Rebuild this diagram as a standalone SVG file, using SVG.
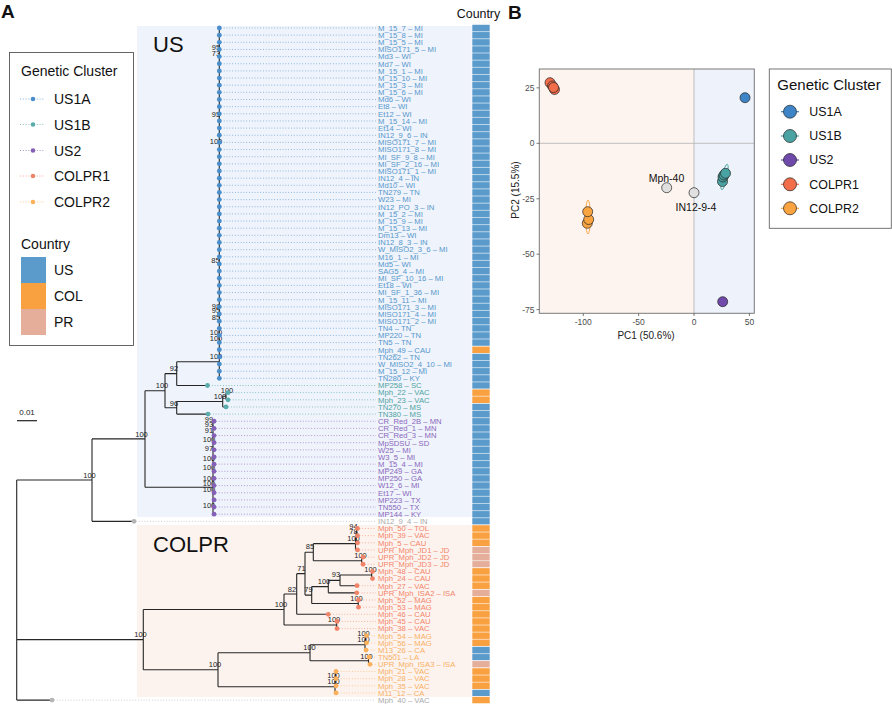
<svg xmlns="http://www.w3.org/2000/svg" width="892" height="704" viewBox="0 0 892 704">
<style>
text{font-family:"Liberation Sans",Arial,sans-serif}
.bs{font-size:7.5px;fill:#222;text-anchor:middle}
.tl{font-size:7.7px}
.a{fill:#5597cc}.b{fill:#4ea3a3}.p{fill:#8a67bd}.r{fill:#f3846a}.o{fill:#f8b064}.g{fill:#aaaaaa}
.da{fill:#4a8fcb}.db{fill:#5aabab}.dp{fill:#8560b8}.dr{fill:#f08468}.do{fill:#fbb05c}.dg{fill:#b5b5b5}
.lead{fill:none;stroke-width:0.8;stroke-dasharray:0.9 1.9}
.tree{fill:none;stroke:#262626;stroke-width:1.1}
.cU{fill:#5a9bcb}.cC{fill:#f9a040}.cP{fill:#e4ae9a}
.leg{font-size:14px;fill:#111}
.tick{font-size:8.5px;fill:#4d4d4d}
.pt{stroke:#222;stroke-width:0.7}
</style>
<rect width="892" height="704" fill="#fff"/>
<text x="1" y="18" font-size="19" font-weight="bold" fill="#111">A</text>
<text x="508" y="19" font-size="19" font-weight="bold" fill="#111">B</text>
<rect x="137" y="26" width="335" height="491" fill="#eff3fb"/>
<rect x="137" y="525" width="335" height="172" fill="#fdf3ee"/>
<text x="153" y="52" font-family="Noto Sans, sans-serif" font-size="22" fill="#111">US</text>
<text x="153" y="552" font-family="Noto Sans, sans-serif" font-size="22" fill="#111">COLPR</text>
<g id="legendA">
<rect x="9.5" y="52.5" width="124" height="293" fill="#fff" stroke="#555" stroke-width="0.9"/>
<text x="21" y="76" class="leg">Genetic Cluster</text>
<line x1="20" y1="99" x2="45" y2="99" stroke="#4a8fcb" class="lead"/><circle cx="33" cy="99" r="2.3" class="da"/><text x="54" y="104" class="leg">US1A</text>
<line x1="20" y1="124.5" x2="45" y2="124.5" stroke="#5aabab" class="lead"/><circle cx="33" cy="124.5" r="2.3" class="db"/><text x="54" y="129.5" class="leg">US1B</text>
<line x1="20" y1="150.5" x2="45" y2="150.5" stroke="#8560b8" class="lead"/><circle cx="33" cy="150.5" r="2.3" class="dp"/><text x="54" y="155.5" class="leg">US2</text>
<line x1="20" y1="176" x2="45" y2="176" stroke="#f08468" class="lead"/><circle cx="33" cy="176" r="2.3" class="dr"/><text x="54" y="181" class="leg">COLPR1</text>
<line x1="20" y1="202" x2="45" y2="202" stroke="#fbb05c" class="lead"/><circle cx="33" cy="202" r="2.3" class="do"/><text x="54" y="207" class="leg">COLPR2</text>
<text x="21" y="249" class="leg">Country</text>
<rect x="21" y="257" width="25" height="26" class="cU"/><text x="54" y="275" class="leg">US</text>
<rect x="21" y="283" width="25" height="26" class="cC"/><text x="54" y="301" class="leg">COL</text>
<rect x="21" y="309" width="25" height="26" class="cP"/><text x="54" y="327" class="leg">PR</text>
</g>
<g id="scalebar">
<text x="27" y="415" font-size="8" text-anchor="middle" fill="#222">0.01</text>
<line x1="17" y1="420.7" x2="37" y2="420.7" stroke="#222" stroke-width="1.2"/>
</g>
<g id="connectors">
<path class="lead" stroke="#6aa3d4" d="M221 28H376M221 35.15H376M221 42.3H376M221 49.45H376M221 56.6H376M221 63.75H376M221 70.9H376M221 78.05H376M221 85.2H376M221 92.35H376M221 99.5H376M221 106.65H376M221 113.8H376M221 120.95H376M221 128.1H376M221 135.25H376M221 142.4H376M221 149.55H376M221 156.7H376M221 163.85H376M221 171H376M221 178.15H376M221 185.3H376M221 192.45H376M221 199.6H376M221 206.75H376M221 213.9H376M221 221.05H376M221 228.2H376M221 235.35H376M221 242.5H376M221 249.65H376M221 256.8H376M221 263.95H376M221 271.1H376M221 278.25H376M221 285.4H376M221 292.55H376M221 299.7H376M221 306.85H376M221 314H376M221 321.15H376M221 328.3H376M221 335.45H376M221 342.6H376M221 349.75H376M221 356.9H376M221 364.05H376M221 371.2H376M221 378.35H376"/>
<path class="lead" stroke="#62b0b0" d="M209 385.5H376M230 392.65H376M230 399.8H376M228 406.95H376M210 414.1H376"/>
<path class="lead" stroke="#9a7cc6" d="M216 421.25H376M216 428.4H376M216 435.55H376M216 442.7H376M216 449.85H376M216 457H376M216 464.15H376M216 471.3H376M216 478.45H376M216 485.6H376M216 492.75H376M216 499.9H376M216 507.05H376M216 514.2H376"/>
<path class="lead" stroke="#bbbbbb" d="M136 521.35H376M54 700.1H376"/>
<path class="lead" stroke="#f39a84" d="M359.5 528.5H376M359.5 535.65H376M359.5 542.8H376M359.5 549.95H376M365 557.1H376M365 564.25H376M359 585.7H376M358.7 592.85H376M360.5 600H376M360.5 607.15H376M330.3 614.3H376M339 621.45H376M339 628.6H376"/>
<path class="lead" stroke="#fbbf7e" d="M368.5 635.75H376M368.5 642.9H376M368 650.05H376M371 657.2H376M372 664.35H376M338 671.5H376M338 678.65H376M338 685.8H376M338 692.95H376"/>
<path class="tree" d="M16.7 480V700.1M16.7 480H92M16.7 639.6H143.3M16.7 700.1H52
M92 438.9V521.35M92 438.9H145M92 521.35H134
M145 390.7V487.3M145 390.7H165M145 487.3H213
M165 373.6V407.8M165 373.6H176.7M165 407.8H176.7
M176.7 361.7V385.5M176.7 361.7H219.3M176.7 385.5H207.5
M219.3 28V378.35
M176.7 401.5V414.1M176.7 401.5H222.7M176.7 414.1H208
M222.7 396.2V406.95M222.7 396.2H226M222.7 406.95H226
M226 392.65V399.8M226 392.65H228M226 399.8H228
M213 421.25V514.2
M143.3 609.5V669.7M143.3 609.5H284M143.3 669.7H218
M284 594V625M284 594H296.7M284 625H336.7
M336.7 621.45V628.6
M296.7 573.65V614.3M296.7 573.65H305M296.7 614.3H328.3
M305 552.2V595.1M305 552.2H313.3M305 595.1H311.7
M313.3 543.65V560.7M313.3 543.65H355.5M313.3 560.7H361.7
M355.5 537.4V549.95M355.5 537.4H356.2M355.5 549.95H357.5
M356.2 532.05V542.8M356.2 532.05H356.8M356.2 542.8H357.5
M356.8 528.5V535.65
M361.7 557.1V564.25M361.7 557.1H363M361.7 564.25H363
M311.7 586.6V603.55M311.7 586.6H328.3M311.7 603.55H358.3
M328.3 580.35V592.85M328.3 580.35H340M328.3 592.85H356.7
M340 575V585.7M340 575H371.7M340 585.7H357
M371.7 571.4V578.55M371.7 571.4H372.5M371.7 578.55H372.5
M358.3 600V607.15
M218 652.7V686.7M218 652.7H310M218 686.7H335
M310 644.7V660.8M310 644.7H365M310 660.8H368.5
M365 639.3V650.05M365 639.3H365.5M365 650.05H366
M365.5 635.75V642.9M365.5 635.75H366.5M365.5 642.9H366.5
M368.5 657.2V664.35M368.5 657.2H369M368.5 664.35H370
M335 680.4V692.95M335 680.4H335.3M335.3 675.1V685.8M335.3 675.1H335.6M335.6 671.5V678.65M335 692.95H336"/>
</g>
<g id="bootstrap" class="bs">
<text x="216" y="49.8">95</text><text x="216" y="55.8">73</text><text x="216" y="116.5">95</text><text x="216" y="143.5">100</text><text x="215.5" y="262.5">85</text><text x="216" y="308.5">98</text><text x="216" y="313.2">95</text><text x="216" y="320.2">85</text><text x="216" y="335">100</text><text x="216" y="340.5">100</text><text x="216" y="358.5">100</text>
<text x="209" y="421.5">99</text><text x="209" y="427">93</text><text x="209" y="432.5">91</text><text x="209" y="442">100</text><text x="209" y="450.5">97</text><text x="209" y="461">100</text><text x="209" y="470">100</text><text x="209" y="481">100</text><text x="209" y="485.5">100</text><text x="209" y="492">100</text><text x="209" y="507.5">100</text>
<text x="89.5" y="477.5">100</text><text x="141.5" y="436.5">100</text><text x="162" y="388">100</text><text x="174" y="370.5">92</text><text x="174" y="405.5">96</text><text x="220" y="399">100</text><text x="227" y="392.5">100</text>
<text x="140.5" y="636.5">100</text><text x="281" y="606.5">100</text><text x="292" y="591.5">82</text><text x="301.5" y="571">71</text><text x="310" y="549.3">85</text><text x="353.5" y="528.5">94</text><text x="353.5" y="534.3">78</text><text x="353.5" y="541">100</text><text x="360.5" y="557.5">100</text><text x="308.5" y="591.5">79</text><text x="324" y="583.5">100</text><text x="336" y="576.5">93</text><text x="370.5" y="571.5">100</text><text x="356.5" y="600.5">100</text><text x="334" y="621.5">100</text>
<text x="215" y="666.5">100</text><text x="309.5" y="649.5">100</text><text x="363.5" y="635.5">100</text><text x="363.5" y="641.5">100</text><text x="366.5" y="658.5">100</text><text x="333.5" y="677.5">100</text><text x="333.5" y="683.5">100</text>
</g>
<g id="tips" class="tl">
<g id="t1"><circle cx="219.3" cy="28" r="2.4" class="da"/><text x="378" y="30.8" class="a">M_15_7 – MI</text></g>
<g id="t2"><circle cx="219.3" cy="35.15" r="2.4" class="da"/><text x="378" y="37.95" class="a">M_15_8 – MI</text></g>
<g id="t3"><circle cx="219.3" cy="42.3" r="2.4" class="da"/><text x="378" y="45.1" class="a">M_15_5 – MI</text></g>
<g id="t4"><circle cx="219.3" cy="49.45" r="2.4" class="da"/><text x="378" y="52.25" class="a">MISO171_5 – MI</text></g>
<g id="t5"><circle cx="219.3" cy="56.6" r="2.4" class="da"/><text x="378" y="59.4" class="a">Md3 – WI</text></g>
<g id="t6"><circle cx="219.3" cy="63.75" r="2.4" class="da"/><text x="378" y="66.55" class="a">Md7 – WI</text></g>
<g id="t7"><circle cx="219.3" cy="70.9" r="2.4" class="da"/><text x="378" y="73.7" class="a">M_15_1 – MI</text></g>
<g id="t8"><circle cx="219.3" cy="78.05" r="2.4" class="da"/><text x="378" y="80.85" class="a">M_15_10 – MI</text></g>
<g id="t9"><circle cx="219.3" cy="85.2" r="2.4" class="da"/><text x="378" y="88" class="a">M_15_3 – MI</text></g>
<g id="t10"><circle cx="219.3" cy="92.35" r="2.4" class="da"/><text x="378" y="95.15" class="a">M_15_6 – MI</text></g>
<g id="t11"><circle cx="219.3" cy="99.5" r="2.4" class="da"/><text x="378" y="102.3" class="a">Md6 – WI</text></g>
<g id="t12"><circle cx="219.3" cy="106.65" r="2.4" class="da"/><text x="378" y="109.45" class="a">Et8 – WI</text></g>
<g id="t13"><circle cx="219.3" cy="113.8" r="2.4" class="da"/><text x="378" y="116.6" class="a">Et12 – WI</text></g>
<g id="t14"><circle cx="219.3" cy="120.95" r="2.4" class="da"/><text x="378" y="123.75" class="a">M_15_14 – MI</text></g>
<g id="t15"><circle cx="219.3" cy="128.1" r="2.4" class="da"/><text x="378" y="130.9" class="a">Et14 – WI</text></g>
<g id="t16"><circle cx="219.3" cy="135.25" r="2.4" class="da"/><text x="378" y="138.05" class="a">IN12_9_6 – IN</text></g>
<g id="t17"><circle cx="219.3" cy="142.4" r="2.4" class="da"/><text x="378" y="145.2" class="a">MISO171_7 – MI</text></g>
<g id="t18"><circle cx="219.3" cy="149.55" r="2.4" class="da"/><text x="378" y="152.35" class="a">MISO171_8 – MI</text></g>
<g id="t19"><circle cx="219.3" cy="156.7" r="2.4" class="da"/><text x="378" y="159.5" class="a">MI_SF_9_8 – MI</text></g>
<g id="t20"><circle cx="219.3" cy="163.85" r="2.4" class="da"/><text x="378" y="166.65" class="a">MI_SF_2_16 – MI</text></g>
<g id="t21"><circle cx="219.3" cy="171" r="2.4" class="da"/><text x="378" y="173.8" class="a">MISO171_1 – MI</text></g>
<g id="t22"><circle cx="219.3" cy="178.15" r="2.4" class="da"/><text x="378" y="180.95" class="a">IN12_4 – IN</text></g>
<g id="t23"><circle cx="219.3" cy="185.3" r="2.4" class="da"/><text x="378" y="188.1" class="a">Md10 – WI</text></g>
<g id="t24"><circle cx="219.3" cy="192.45" r="2.4" class="da"/><text x="378" y="195.25" class="a">TN279 – TN</text></g>
<g id="t25"><circle cx="219.3" cy="199.6" r="2.4" class="da"/><text x="378" y="202.4" class="a">W23 – MI</text></g>
<g id="t26"><circle cx="219.3" cy="206.75" r="2.4" class="da"/><text x="378" y="209.55" class="a">IN12_PO_3 – IN</text></g>
<g id="t27"><circle cx="219.3" cy="213.9" r="2.4" class="da"/><text x="378" y="216.7" class="a">M_15_2 – MI</text></g>
<g id="t28"><circle cx="219.3" cy="221.05" r="2.4" class="da"/><text x="378" y="223.85" class="a">M_15_9 – MI</text></g>
<g id="t29"><circle cx="219.3" cy="228.2" r="2.4" class="da"/><text x="378" y="231" class="a">M_15_13 – MI</text></g>
<g id="t30"><circle cx="219.3" cy="235.35" r="2.4" class="da"/><text x="378" y="238.15" class="a">Dm13 – WI</text></g>
<g id="t31"><circle cx="219.3" cy="242.5" r="2.4" class="da"/><text x="378" y="245.3" class="a">IN12_8_3 – IN</text></g>
<g id="t32"><circle cx="219.3" cy="249.65" r="2.4" class="da"/><text x="378" y="252.45" class="a">W_MISO2_3_6 – MI</text></g>
<g id="t33"><circle cx="219.3" cy="256.8" r="2.4" class="da"/><text x="378" y="259.6" class="a">M16_1 – MI</text></g>
<g id="t34"><circle cx="219.3" cy="263.95" r="2.4" class="da"/><text x="378" y="266.75" class="a">Md5 – WI</text></g>
<g id="t35"><circle cx="219.3" cy="271.1" r="2.4" class="da"/><text x="378" y="273.9" class="a">SAG5_4 – MI</text></g>
<g id="t36"><circle cx="219.3" cy="278.25" r="2.4" class="da"/><text x="378" y="281.05" class="a">MI_SF_10_16 – MI</text></g>
<g id="t37"><circle cx="219.3" cy="285.4" r="2.4" class="da"/><text x="378" y="288.2" class="a">Et18 – WI</text></g>
<g id="t38"><circle cx="219.3" cy="292.55" r="2.4" class="da"/><text x="378" y="295.35" class="a">MI_SF_1_36 – MI</text></g>
<g id="t39"><circle cx="219.3" cy="299.7" r="2.4" class="da"/><text x="378" y="302.5" class="a">M_15_11 – MI</text></g>
<g id="t40"><circle cx="219.3" cy="306.85" r="2.4" class="da"/><text x="378" y="309.65" class="a">MISO171_3 – MI</text></g>
<g id="t41"><circle cx="219.3" cy="314" r="2.4" class="da"/><text x="378" y="316.8" class="a">MISO171_4 – MI</text></g>
<g id="t42"><circle cx="219.3" cy="321.15" r="2.4" class="da"/><text x="378" y="323.95" class="a">MISO171_2 – MI</text></g>
<g id="t43"><circle cx="219.3" cy="328.3" r="2.4" class="da"/><text x="378" y="331.1" class="a">TN4 – TN</text></g>
<g id="t44"><circle cx="219.3" cy="335.45" r="2.4" class="da"/><text x="378" y="338.25" class="a">MP220 – TN</text></g>
<g id="t45"><circle cx="219.3" cy="342.6" r="2.4" class="da"/><text x="378" y="345.4" class="a">TN5 – TN</text></g>
<g id="t46"><circle cx="219.3" cy="349.75" r="2.4" class="da"/><text x="378" y="352.55" class="a">Mph_49 – CAU</text></g>
<g id="t47"><circle cx="219.3" cy="356.9" r="2.4" class="da"/><text x="378" y="359.7" class="a">TN262 – TN</text></g>
<g id="t48"><circle cx="219.3" cy="364.05" r="2.4" class="da"/><text x="378" y="366.85" class="a">W_MISO2_4_10 – MI</text></g>
<g id="t49"><circle cx="219.3" cy="371.2" r="2.4" class="da"/><text x="378" y="374" class="a">M_15_12 – MI</text></g>
<g id="t50"><circle cx="219.3" cy="378.35" r="2.4" class="da"/><text x="378" y="381.15" class="a">TN280 – KY</text></g>
<g id="t51"><circle cx="207.5" cy="385.5" r="2.4" class="db"/><text x="378" y="388.3" class="b">MP258 – SC</text></g>
<g id="t52"><circle cx="228" cy="392.65" r="2.4" class="db"/><text x="378" y="395.45" class="b">Mph_22 – VAC</text></g>
<g id="t53"><circle cx="228" cy="399.8" r="2.4" class="db"/><text x="378" y="402.6" class="b">Mph_23 – VAC</text></g>
<g id="t54"><circle cx="226" cy="406.95" r="2.4" class="db"/><text x="378" y="409.75" class="b">TN270 – MS</text></g>
<g id="t55"><circle cx="208" cy="414.1" r="2.4" class="db"/><text x="378" y="416.9" class="b">TN380 – MS</text></g>
<g id="t56"><circle cx="214" cy="421.25" r="2.4" class="dp"/><text x="378" y="424.05" class="p">CR_Red_2B – MN</text></g>
<g id="t57"><circle cx="214" cy="428.4" r="2.4" class="dp"/><text x="378" y="431.2" class="p">CR_Red_1 – MN</text></g>
<g id="t58"><circle cx="214" cy="435.55" r="2.4" class="dp"/><text x="378" y="438.35" class="p">CR_Red_3 – MN</text></g>
<g id="t59"><circle cx="214" cy="442.7" r="2.4" class="dp"/><text x="378" y="445.5" class="p">MpSDSU – SD</text></g>
<g id="t60"><circle cx="214" cy="449.85" r="2.4" class="dp"/><text x="378" y="452.65" class="p">W25 – MI</text></g>
<g id="t61"><circle cx="214" cy="457" r="2.4" class="dp"/><text x="378" y="459.8" class="p">W3_5 – MI</text></g>
<g id="t62"><circle cx="214" cy="464.15" r="2.4" class="dp"/><text x="378" y="466.95" class="p">M_15_4 – MI</text></g>
<g id="t63"><circle cx="214" cy="471.3" r="2.4" class="dp"/><text x="378" y="474.1" class="p">MP249 – GA</text></g>
<g id="t64"><circle cx="214" cy="478.45" r="2.4" class="dp"/><text x="378" y="481.25" class="p">MP250 – GA</text></g>
<g id="t65"><circle cx="214" cy="485.6" r="2.4" class="dp"/><text x="378" y="488.4" class="p">W12_6 – MI</text></g>
<g id="t66"><circle cx="214" cy="492.75" r="2.4" class="dp"/><text x="378" y="495.55" class="p">Et17 – WI</text></g>
<g id="t67"><circle cx="214" cy="499.9" r="2.4" class="dp"/><text x="378" y="502.7" class="p">MP223 – TX</text></g>
<g id="t68"><circle cx="214" cy="507.05" r="2.4" class="dp"/><text x="378" y="509.85" class="p">TN550 – TX</text></g>
<g id="t69"><circle cx="214" cy="514.2" r="2.4" class="dp"/><text x="378" y="517" class="p">MP144 – KY</text></g>
<g id="t70"><circle cx="134" cy="521.35" r="2.4" class="dg"/><text x="378" y="524.15" class="g">IN12_9_4 – IN</text></g>
<g id="t71"><circle cx="357.5" cy="528.5" r="2.4" class="dr"/><text x="378" y="531.3" class="r">Mph_50 – TOL</text></g>
<g id="t72"><circle cx="357.5" cy="535.65" r="2.4" class="dr"/><text x="378" y="538.45" class="r">Mph_39 – VAC</text></g>
<g id="t73"><circle cx="357.5" cy="542.8" r="2.4" class="dr"/><text x="378" y="545.6" class="r">Mph_5 – CAU</text></g>
<g id="t74"><circle cx="357.5" cy="549.95" r="2.4" class="dr"/><text x="378" y="552.75" class="r">UPR_Mph_JD1 – JD</text></g>
<g id="t75"><circle cx="363" cy="557.1" r="2.4" class="dr"/><text x="378" y="559.9" class="r">UPR_Mph_JD2 – JD</text></g>
<g id="t76"><circle cx="363" cy="564.25" r="2.4" class="dr"/><text x="378" y="567.05" class="r">UPR_Mph_JD3 – JD</text></g>
<g id="t77"><circle cx="372.5" cy="571.4" r="2.4" class="dr"/><text x="378" y="574.2" class="r">Mph_48 – CAU</text></g>
<g id="t78"><circle cx="372.5" cy="578.55" r="2.4" class="dr"/><text x="378" y="581.35" class="r">Mph_24 – CAU</text></g>
<g id="t79"><circle cx="357" cy="585.7" r="2.4" class="dr"/><text x="378" y="588.5" class="r">Mph_27 – VAC</text></g>
<g id="t80"><circle cx="356.7" cy="592.85" r="2.4" class="dr"/><text x="378" y="595.65" class="r">UPR_Mph_ISA2 – ISA</text></g>
<g id="t81"><circle cx="358.5" cy="600" r="2.4" class="dr"/><text x="378" y="602.8" class="r">Mph_52 – MAG</text></g>
<g id="t82"><circle cx="358.5" cy="607.15" r="2.4" class="dr"/><text x="378" y="609.95" class="r">Mph_53 – MAG</text></g>
<g id="t83"><circle cx="328.3" cy="614.3" r="2.4" class="dr"/><text x="378" y="617.1" class="r">Mph_46 – CAU</text></g>
<g id="t84"><circle cx="337" cy="621.45" r="2.4" class="dr"/><text x="378" y="624.25" class="r">Mph_45 – CAU</text></g>
<g id="t85"><circle cx="337" cy="628.6" r="2.4" class="dr"/><text x="378" y="631.4" class="r">Mph_38 – VAC</text></g>
<g id="t86"><circle cx="366.5" cy="635.75" r="2.4" class="do"/><text x="378" y="638.55" class="o">Mph_54 – MAG</text></g>
<g id="t87"><circle cx="366.5" cy="642.9" r="2.4" class="do"/><text x="378" y="645.7" class="o">Mph_56 – MAG</text></g>
<g id="t88"><circle cx="366" cy="650.05" r="2.4" class="do"/><text x="378" y="652.85" class="o">M13_26 – CA</text></g>
<g id="t89"><circle cx="369" cy="657.2" r="2.4" class="do"/><text x="378" y="660" class="o">TN501 – LA</text></g>
<g id="t90"><circle cx="370" cy="664.35" r="2.4" class="do"/><text x="378" y="667.15" class="o">UPR_Mph_ISA3 – ISA</text></g>
<g id="t91"><circle cx="336" cy="671.5" r="2.4" class="do"/><text x="378" y="674.3" class="o">Mph_21 – VAC</text></g>
<g id="t92"><circle cx="336" cy="678.65" r="2.4" class="do"/><text x="378" y="681.45" class="o">Mph_28 – VAC</text></g>
<g id="t93"><circle cx="336" cy="685.8" r="2.4" class="do"/><text x="378" y="688.6" class="o">Mph_35 – VAC</text></g>
<g id="t94"><circle cx="336" cy="692.95" r="2.4" class="do"/><text x="378" y="695.75" class="o">M11_12 – CA</text></g>
<g id="t95"><circle cx="52" cy="700.1" r="2.4" class="dg"/><text x="378" y="702.9" class="g">Mph_40 – VAC</text></g>
</g>
<g id="country" stroke="#fff" stroke-width="0.6">
<text x="478.5" y="18" font-size="12.4" text-anchor="middle" fill="#111" stroke="none">Country</text>
<rect x="472" y="24.43" width="18" height="321.75" class="cU"/>
<rect x="472" y="346.18" width="18" height="7.15" class="cC"/>
<rect x="472" y="353.33" width="18" height="35.75" class="cU"/>
<rect x="472" y="389.08" width="18" height="14.3" class="cC"/>
<rect x="472" y="403.38" width="18" height="121.55" class="cU"/>
<rect x="472" y="524.93" width="18" height="21.45" class="cC"/>
<rect x="472" y="546.38" width="18" height="21.45" class="cP"/>
<rect x="472" y="567.83" width="18" height="21.45" class="cC"/>
<rect x="472" y="589.28" width="18" height="7.15" class="cP"/>
<rect x="472" y="596.43" width="18" height="50.05" class="cC"/>
<rect x="472" y="646.48" width="18" height="14.3" class="cU"/>
<rect x="472" y="660.78" width="18" height="7.15" class="cP"/>
<rect x="472" y="667.93" width="18" height="21.45" class="cC"/>
<rect x="472" y="689.38" width="18" height="7.15" class="cU"/>
<rect x="472" y="696.53" width="18" height="7.15" class="cC"/>
<path fill="none" d="M472 31.58H490M472 38.73H490M472 45.88H490M472 53.03H490M472 60.18H490M472 67.33H490M472 74.48H490M472 81.63H490M472 88.78H490M472 95.93H490M472 103.08H490M472 110.23H490M472 117.38H490M472 124.53H490M472 131.68H490M472 138.83H490M472 145.98H490M472 153.13H490M472 160.28H490M472 167.43H490M472 174.58H490M472 181.73H490M472 188.88H490M472 196.03H490M472 203.18H490M472 210.33H490M472 217.48H490M472 224.63H490M472 231.78H490M472 238.93H490M472 246.08H490M472 253.23H490M472 260.38H490M472 267.53H490M472 274.68H490M472 281.83H490M472 288.98H490M472 296.13H490M472 303.28H490M472 310.43H490M472 317.58H490M472 324.73H490M472 331.88H490M472 339.03H490M472 360.48H490M472 367.63H490M472 374.78H490M472 381.93H490M472 396.23H490M472 410.53H490M472 417.68H490M472 424.83H490M472 431.98H490M472 439.13H490M472 446.28H490M472 453.43H490M472 460.58H490M472 467.73H490M472 474.88H490M472 482.03H490M472 489.18H490M472 496.33H490M472 503.48H490M472 510.63H490M472 517.78H490M472 532.08H490M472 539.23H490M472 553.53H490M472 560.68H490M472 574.98H490M472 582.13H490M472 603.58H490M472 610.73H490M472 617.88H490M472 625.03H490M472 632.18H490M472 639.33H490M472 653.63H490M472 675.08H490M472 682.23H490"/>
</g>
<g id="pca">
<rect x="539.3" y="69" width="154.7" height="244.3" fill="#fdf4ef"/>
<rect x="694" y="69" width="60.3" height="244.3" fill="#eef3fb"/>
<line x1="694" y1="69" x2="694" y2="313.3" stroke="#b8b8b8" stroke-width="0.9"/>
<line x1="539.3" y1="143.3" x2="754.3" y2="143.3" stroke="#b8b8b8" stroke-width="0.9"/>
<rect x="539.3" y="69" width="215" height="244.3" fill="none" stroke="#7a7a7a" stroke-width="1"/>
<path d="M536.5 87.85H539.3M536.5 143.3H539.3M536.5 198.75H539.3M536.5 254.2H539.3M536.5 309.6H539.3M583.3 313.3V316M638.6 313.3V316M694 313.3V316M749.4 313.3V316" stroke="#555" stroke-width="0.8"/>
<g class="tick" text-anchor="end">
<text x="534.5" y="90.8">25</text><text x="534.5" y="146.3">0</text><text x="534.5" y="201.7">-25</text><text x="534.5" y="257.2">-50</text><text x="534.5" y="312.6">-75</text>
</g>
<g class="tick" text-anchor="middle">
<text x="583.3" y="325">-100</text><text x="638.6" y="325">-50</text><text x="694" y="325">0</text><text x="749.4" y="325">50</text>
</g>
<text x="646" y="339" font-size="10" text-anchor="middle" fill="#222">PC1 (50.6%)</text>
<text transform="translate(519 190) rotate(-90)" font-size="10" text-anchor="middle" fill="#222">PC2 (15.5%)</text>
<ellipse cx="724.5" cy="177" rx="2.6" ry="13" transform="rotate(12 724.5 177)" fill="none" stroke="#4aa3a3" stroke-width="0.9"/>
<ellipse cx="588" cy="217" rx="2.4" ry="17" fill="none" stroke="#f9a440" stroke-width="0.9"/>
<circle cx="550" cy="82.7" r="5" fill="#f26d4a" class="pt"/>
<circle cx="552.5" cy="86" r="5" fill="#f26d4a" class="pt"/>
<circle cx="554.5" cy="89.5" r="5" fill="#f26d4a" class="pt"/>
<circle cx="553.5" cy="87.5" r="5" fill="#f26d4a" class="pt"/>
<circle cx="745" cy="97.7" r="5" fill="#3d85c6" class="pt"/>
<circle cx="722.5" cy="181.5" r="5" fill="#4aa3a3" class="pt"/>
<circle cx="723" cy="177" r="5" fill="#4aa3a3" class="pt"/>
<circle cx="724" cy="175" r="5" fill="#4aa3a3" class="pt"/>
<circle cx="725.5" cy="173.3" r="5" fill="#4aa3a3" class="pt"/>
<circle cx="587.3" cy="223.3" r="5" fill="#f9a440" class="pt"/>
<circle cx="588.7" cy="219.5" r="5" fill="#f9a440" class="pt"/>
<circle cx="587.7" cy="211.7" r="5" fill="#f9a440" class="pt"/>
<circle cx="722.7" cy="301.7" r="5" fill="#6f4aab" class="pt"/>
<circle cx="666.7" cy="187.7" r="5" fill="#e0e0e0" class="pt"/>
<circle cx="694" cy="192.7" r="5" fill="#e0e0e0" class="pt"/>
<text x="666.5" y="181.5" font-size="10.5" text-anchor="middle" fill="#111">Mph-40</text>
<text x="696" y="211" font-size="10.5" text-anchor="middle" fill="#111">IN12-9-4</text>
</g>
<g id="legendB">
<rect x="769.3" y="69" width="122" height="159.3" fill="#fff" stroke="#666" stroke-width="0.9"/>
<text x="777.3" y="90" font-size="15" fill="#111">Genetic Cluster</text>
<line x1="781" y1="111.7" x2="799" y2="111.7" stroke="#3d85c6" stroke-width="1.2"/><circle cx="790" cy="111.7" r="6.5" fill="#3d85c6" class="pt"/><text x="809.3" y="116" font-size="12.4" fill="#111">US1A</text>
<line x1="781" y1="136" x2="799" y2="136" stroke="#4aa3a3" stroke-width="1.2"/><circle cx="790" cy="136" r="6.5" fill="#4aa3a3" class="pt"/><text x="809.3" y="140.3" font-size="12.4" fill="#111">US1B</text>
<line x1="781" y1="160" x2="799" y2="160" stroke="#6f4aab" stroke-width="1.2"/><circle cx="790" cy="160" r="6.5" fill="#6f4aab" class="pt"/><text x="809.3" y="164.3" font-size="12.4" fill="#111">US2</text>
<line x1="781" y1="184.3" x2="799" y2="184.3" stroke="#f26d4a" stroke-width="1.2"/><circle cx="790" cy="184.3" r="6.5" fill="#f26d4a" class="pt"/><text x="809.3" y="188.6" font-size="12.4" fill="#111">COLPR1</text>
<line x1="781" y1="208.3" x2="799" y2="208.3" stroke="#f9a440" stroke-width="1.2"/><circle cx="790" cy="208.3" r="6.5" fill="#f9a440" class="pt"/><text x="809.3" y="212.6" font-size="12.4" fill="#111">COLPR2</text>
</g>
</svg>
